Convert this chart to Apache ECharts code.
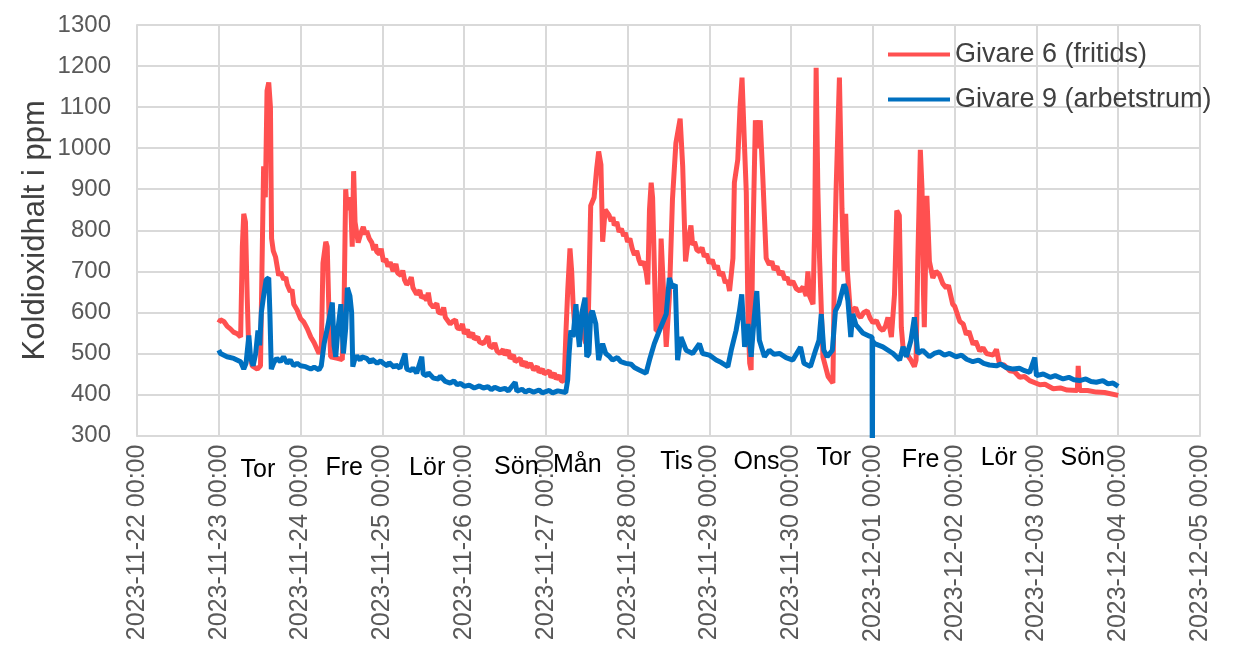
<!DOCTYPE html>
<html><head><meta charset="utf-8">
<script src="https://cdn.jsdelivr.net/npm/echarts@6/dist/echarts.min.js"></script>
<style>html,body{margin:0;padding:0;background:#fff}#c{width:1235px;height:645px}</style>
</head><body><div id="c"></div>
<script>
// ---- data ----
const yTickMin = 300, yTickMax = 1300, yTickStep = 100;
const xStart = '2023-11-22 00:00', xEnd = '2023-12-05 00:00';
const seriesNames = ['Givare 6 (fritids)', 'Givare 9 (arbetstrum)'];
const dayNames = ['Tor','Fre','Lör','Sön','Mån','Tis','Ons','Tor','Fre','Lör','Sön'];
const dayTimes = ['2023-11-23 11:30','2023-11-24 12:50','2023-11-25 13:10','2023-11-26 15:20','2023-11-27 09:15',
  '2023-11-28 14:20','2023-11-29 13:50','2023-11-30 12:30','2023-12-01 14:00','2023-12-02 12:55','2023-12-03 13:35'];

const givare6 = [
 ['2023-11-23 00:00',575],['2023-11-23 00:30',582],['2023-11-23 01:30',578],['2023-11-23 02:30',566],['2023-11-23 03:25',560],
 ['2023-11-23 04:20',552],['2023-11-23 05:25',548],['2023-11-23 06:25',540],['2023-11-23 06:55',760],['2023-11-23 07:20',840],
 ['2023-11-23 07:50',820],['2023-11-23 08:20',640],['2023-11-23 08:50',500],['2023-11-23 09:50',470],['2023-11-23 11:20',462],
 ['2023-11-23 12:15',470],['2023-11-23 12:40',700],['2023-11-23 13:10',956],['2023-11-23 13:40',880],['2023-11-23 14:10',1140],
 ['2023-11-23 14:40',1160],['2023-11-23 15:10',1100],['2023-11-23 15:30',780],['2023-11-23 16:00',750],['2023-11-23 16:40',735],
 ['2023-11-23 17:35',690],['2023-11-23 18:10',698],['2023-11-23 19:05',680],['2023-11-23 19:40',686],['2023-11-23 20:05',668],
 ['2023-11-23 21:00',650],['2023-11-23 21:30',656],['2023-11-23 22:00',620],['2023-11-23 23:00',606],['2023-11-24 00:00',585],
 ['2023-11-24 01:00',576],['2023-11-24 02:00',560],['2023-11-24 03:00',540],['2023-11-24 04:00',526],['2023-11-24 05:25',500],
 ['2023-11-24 06:05',510],['2023-11-24 06:35',720],['2023-11-24 07:25',772],['2023-11-24 07:50',760],['2023-11-24 08:20',600],
 ['2023-11-24 08:50',492],['2023-11-24 10:50',488],['2023-11-24 12:15',485],['2023-11-24 12:45',600],['2023-11-24 13:15',900],
 ['2023-11-24 13:40',850],['2023-11-24 14:40',880],['2023-11-24 15:10',760],['2023-11-24 15:35',944],['2023-11-24 16:00',820],
 ['2023-11-24 16:55',770],['2023-11-24 17:40',792],['2023-11-24 18:25',808],['2023-11-24 19:00',790],['2023-11-24 19:25',798],
 ['2023-11-24 20:10',780],['2023-11-24 20:55',770],['2023-11-24 21:30',752],['2023-11-24 22:00',766],['2023-11-24 22:20',748],
 ['2023-11-24 23:10',742],['2023-11-24 23:40',755],['2023-11-25 00:20',724],['2023-11-25 01:00',730],['2023-11-25 01:40',712],
 ['2023-11-25 02:20',722],['2023-11-25 03:10',700],['2023-11-25 04:00',718],['2023-11-25 04:30',696],['2023-11-25 05:30',690],
 ['2023-11-25 06:00',702],['2023-11-25 06:30',680],['2023-11-25 07:10',668],['2023-11-25 08:00',676],['2023-11-25 08:30',686],
 ['2023-11-25 09:00',660],['2023-11-25 10:05',644],['2023-11-25 11:00',654],['2023-11-25 11:30',636],['2023-11-25 12:10',640],
 ['2023-11-25 13:00',630],['2023-11-25 13:30',648],['2023-11-25 14:00',622],['2023-11-25 15:00',612],['2023-11-25 16:00',622],
 ['2023-11-25 16:30',600],['2023-11-25 17:30',598],['2023-11-25 18:00',612],['2023-11-25 18:30',588],['2023-11-25 19:55',572],
 ['2023-11-25 20:40',578],['2023-11-25 21:30',582],['2023-11-25 22:00',562],['2023-11-25 23:00',560],['2023-11-25 23:30',572],
 ['2023-11-26 00:05',548],['2023-11-26 01:00',558],['2023-11-26 01:30',540],['2023-11-26 02:30',550],['2023-11-26 03:00',535],
 ['2023-11-26 04:00',540],['2023-11-26 04:30',528],['2023-11-26 05:40',524],['2023-11-26 06:20',532],['2023-11-26 07:00',542],
 ['2023-11-26 07:30',518],['2023-11-26 08:30',514],['2023-11-26 09:00',526],['2023-11-26 09:40',506],['2023-11-26 10:35',500],
 ['2023-11-26 11:30',510],['2023-11-26 12:00',496],['2023-11-26 13:00',508],['2023-11-26 13:30',488],['2023-11-26 14:30',496],
 ['2023-11-26 15:00',480],['2023-11-26 15:30',476],['2023-11-26 16:30',488],['2023-11-26 17:00',470],['2023-11-26 18:00',480],
 ['2023-11-26 18:30',466],['2023-11-26 19:30',476],['2023-11-26 20:25',460],['2023-11-26 21:30',468],['2023-11-26 22:00',454],
 ['2023-11-26 23:00',462],['2023-11-26 23:30',450],['2023-11-27 00:05',446],['2023-11-27 01:00',458],['2023-11-27 01:30',442],
 ['2023-11-27 02:30',452],['2023-11-27 03:00',438],['2023-11-27 04:00',446],['2023-11-27 04:30',434],['2023-11-27 05:10',432],
 ['2023-11-27 05:25',440],['2023-11-27 05:55',556],['2023-11-27 06:25',652],['2023-11-27 07:05',756],['2023-11-27 07:35',700],
 ['2023-11-27 08:00',620],['2023-11-27 08:35',556],['2023-11-27 09:20',590],['2023-11-27 10:20',564],['2023-11-27 11:45',524],
 ['2023-11-27 12:30',600],['2023-11-27 13:10',860],['2023-11-27 14:10',880],['2023-11-27 14:55',950],['2023-11-27 15:30',992],
 ['2023-11-27 16:10',960],['2023-11-27 16:40',772],['2023-11-27 17:25',850],['2023-11-27 18:35',836],['2023-11-27 19:10',822],
 ['2023-11-27 19:40',832],['2023-11-27 20:05',812],['2023-11-27 20:50',820],['2023-11-27 21:30',796],['2023-11-27 22:10',804],
 ['2023-11-27 22:50',786],['2023-11-27 23:20',794],['2023-11-28 00:00',772],['2023-11-28 00:40',780],['2023-11-28 01:20',756],
 ['2023-11-28 02:00',740],['2023-11-28 02:40',750],['2023-11-28 03:20',728],['2023-11-28 03:55',716],['2023-11-28 04:40',724],
 ['2023-11-28 05:25',700],['2023-11-28 05:55',668],['2023-11-28 06:25',850],['2023-11-28 06:55',916],['2023-11-28 07:20',880],
 ['2023-11-28 07:50',716],['2023-11-28 08:20',556],['2023-11-28 09:20',556],['2023-11-28 09:50',780],['2023-11-28 10:20',780],
 ['2023-11-28 10:50',600],['2023-11-28 11:20',516],['2023-11-28 12:15',636],['2023-11-28 13:10',876],['2023-11-28 14:10',1012],
 ['2023-11-28 15:25',1072],['2023-11-28 16:10',956],['2023-11-28 17:00',724],['2023-11-28 17:35',764],['2023-11-28 18:35',812],
 ['2023-11-28 19:05',764],['2023-11-28 19:40',772],['2023-11-28 20:20',752],['2023-11-28 21:05',748],['2023-11-28 21:50',758],
 ['2023-11-28 22:30',736],['2023-11-28 23:10',742],['2023-11-29 00:00',720],['2023-11-29 00:50',728],['2023-11-29 01:40',706],
 ['2023-11-29 02:20',714],['2023-11-29 03:00',690],['2023-11-29 03:50',698],['2023-11-29 04:40',672],['2023-11-29 05:20',678],
 ['2023-11-29 05:55',652],['2023-11-29 06:55',732],['2023-11-29 07:20',916],['2023-11-29 08:20',972],['2023-11-29 09:00',1100],
 ['2023-11-29 09:35',1172],['2023-11-29 10:20',1000],['2023-11-29 10:50',892],['2023-11-29 11:20',588],['2023-11-29 11:50',476],
 ['2023-11-29 12:15',460],['2023-11-29 12:40',732],['2023-11-29 13:30',1068],['2023-11-29 14:10',1000],['2023-11-29 14:55',1068],
 ['2023-11-29 15:40',932],['2023-11-29 16:40',732],['2023-11-29 17:35',716],['2023-11-29 18:20',724],['2023-11-29 19:00',704],
 ['2023-11-29 19:50',712],['2023-11-29 20:35',692],['2023-11-29 21:20',700],['2023-11-29 22:10',680],['2023-11-29 22:50',686],
 ['2023-11-29 23:30',668],['2023-11-30 00:30',676],['2023-11-30 01:30',658],['2023-11-30 02:30',652],['2023-11-30 03:30',662],
 ['2023-11-30 04:25',640],['2023-11-30 04:55',700],['2023-11-30 05:25',640],['2023-11-30 06:25',620],['2023-11-30 06:55',812],
 ['2023-11-30 07:20',1196],['2023-11-30 07:50',900],['2023-11-30 08:20',732],['2023-11-30 09:20',492],['2023-11-30 10:50',444],
 ['2023-11-30 12:15',428],['2023-11-30 12:45',732],['2023-11-30 13:10',892],['2023-11-30 14:10',1172],['2023-11-30 14:55',852],
 ['2023-11-30 15:30',700],['2023-11-30 16:00',840],['2023-11-30 16:30',700],['2023-11-30 17:25',596],['2023-11-30 18:10',606],
 ['2023-11-30 18:55',612],['2023-11-30 19:40',594],['2023-11-30 20:25',588],['2023-11-30 21:20',600],['2023-11-30 22:20',604],
 ['2023-11-30 23:10',586],['2023-12-01 00:00',575],['2023-12-01 01:00',580],['2023-12-01 02:00',562],['2023-12-01 02:55',556],
 ['2023-12-01 03:40',566],['2023-12-01 04:25',588],['2023-12-01 05:25',540],['2023-12-01 06:20',644],['2023-12-01 07:00',848],
 ['2023-12-01 07:45',836],['2023-12-01 08:20',564],['2023-12-01 08:50',516],['2023-12-01 09:50',500],['2023-12-01 11:10',484],
 ['2023-12-01 12:10',468],['2023-12-01 12:40',484],['2023-12-01 13:10',724],['2023-12-01 13:55',996],['2023-12-01 14:25',900],
 ['2023-12-01 14:50',650],['2023-12-01 15:05',564],['2023-12-01 15:50',884],['2023-12-01 16:35',724],['2023-12-01 17:35',684],
 ['2023-12-01 18:30',700],['2023-12-01 19:30',692],['2023-12-01 20:30',670],['2023-12-01 21:30',660],['2023-12-01 22:10',666],
 ['2023-12-01 23:25',620],['2023-12-02 00:00',615],['2023-12-02 01:30',578],['2023-12-02 02:30',572],['2023-12-02 03:25',546],
 ['2023-12-02 04:10',554],['2023-12-02 05:25',522],['2023-12-02 06:10',530],['2023-12-02 07:20',506],['2023-12-02 08:20',514],
 ['2023-12-02 09:20',500],['2023-12-02 10:20',498],['2023-12-02 11:20',496],['2023-12-02 12:15',510],['2023-12-02 13:10',474],
 ['2023-12-02 14:30',472],['2023-12-02 16:10',458],['2023-12-02 17:30',456],['2023-12-02 19:05',442],['2023-12-02 20:30',444],
 ['2023-12-02 22:00',434],['2023-12-03 01:00',424],['2023-12-03 02:30',425],['2023-12-03 04:55',414],['2023-12-03 07:00',416],
 ['2023-12-03 09:00',411],['2023-12-03 12:00',410],['2023-12-03 12:15',470],['2023-12-03 12:40',410],['2023-12-03 15:00',410],
 ['2023-12-03 17:35',406],['2023-12-03 20:00',405],['2023-12-04 00:00',398]
];

const givare9 = [
 ['2023-11-23 00:00',508],['2023-11-23 00:30',500],['2023-11-23 02:25',492],['2023-11-23 04:25',488],['2023-11-23 06:25',480],
 ['2023-11-23 06:55',470],['2023-11-23 07:20',462],['2023-11-23 08:00',476],['2023-11-23 08:50',544],['2023-11-23 09:20',490],
 ['2023-11-23 10:05',470],['2023-11-23 10:50',500],['2023-11-23 11:30',556],['2023-11-23 12:00',520],['2023-11-23 12:30',600],
 ['2023-11-23 13:10',640],['2023-11-23 13:55',680],['2023-11-23 14:40',684],['2023-11-23 15:00',600],['2023-11-23 15:25',462],
 ['2023-11-23 16:10',478],['2023-11-23 17:00',488],['2023-11-23 18:05',480],['2023-11-23 19:00',492],['2023-11-23 20:05',476],
 ['2023-11-23 21:00',484],['2023-11-23 22:00',470],['2023-11-23 23:00',476],['2023-11-24 00:00',470],['2023-11-24 01:30',468],
 ['2023-11-24 03:00',462],['2023-11-24 04:00',467],['2023-11-24 05:25',460],['2023-11-24 06:05',470],['2023-11-24 06:55',524],
 ['2023-11-24 07:50',560],['2023-11-24 09:20',624],['2023-11-24 09:50',520],['2023-11-24 10:20',492],['2023-11-24 11:00',560],
 ['2023-11-24 11:50',620],['2023-11-24 12:35',500],['2023-11-24 13:15',560],['2023-11-24 13:45',660],['2023-11-24 14:30',640],
 ['2023-11-24 15:00',600],['2023-11-24 15:20',468],['2023-11-24 16:00',488],['2023-11-24 16:30',494],['2023-11-24 17:30',484],
 ['2023-11-24 18:00',492],['2023-11-24 19:25',488],['2023-11-24 20:30',478],['2023-11-24 21:00',486],['2023-11-24 22:30',476],
 ['2023-11-24 23:30',482],['2023-11-25 00:20',476],['2023-11-25 01:30',470],['2023-11-25 02:00',478],['2023-11-25 03:30',466],
 ['2023-11-25 04:00',472],['2023-11-25 05:10',464],['2023-11-25 06:40',500],['2023-11-25 07:10',462],['2023-11-25 08:30',458],
 ['2023-11-25 09:00',465],['2023-11-25 10:05',452],['2023-11-25 11:35',492],['2023-11-25 12:00',450],['2023-11-25 13:00',446],
 ['2023-11-25 13:30',453],['2023-11-25 15:00',440],['2023-11-25 16:30',438],['2023-11-25 17:00',445],['2023-11-25 18:30',432],
 ['2023-11-25 19:55',428],['2023-11-25 21:00',433],['2023-11-25 22:00',424],['2023-11-25 23:00',427],['2023-11-26 00:05',420],
 ['2023-11-26 01:30',423],['2023-11-26 03:00',416],['2023-11-26 04:30',421],['2023-11-26 05:40',416],['2023-11-26 07:00',419],
 ['2023-11-26 08:00',412],['2023-11-26 09:00',418],['2023-11-26 10:35',412],['2023-11-26 12:00',415],['2023-11-26 13:00',409],
 ['2023-11-26 15:00',430],['2023-11-26 15:30',408],['2023-11-26 17:00',413],['2023-11-26 18:00',406],['2023-11-26 19:00',411],
 ['2023-11-26 20:25',406],['2023-11-26 22:00',411],['2023-11-26 23:00',404],['2023-11-27 01:00',410],['2023-11-27 02:00',404],
 ['2023-11-27 03:30',409],['2023-11-27 04:00',405],['2023-11-27 05:50',405],['2023-11-27 06:25',436],['2023-11-27 06:50',500],
 ['2023-11-27 07:20',556],['2023-11-27 08:00',540],['2023-11-27 08:50',620],['2023-11-27 09:20',560],['2023-11-27 09:50',516],
 ['2023-11-27 10:35',600],['2023-11-27 11:30',636],['2023-11-27 12:00',492],['2023-11-27 12:40',500],['2023-11-27 13:10',596],
 ['2023-11-27 13:40',604],['2023-11-27 14:40',572],['2023-11-27 15:30',484],['2023-11-27 16:40',524],['2023-11-27 17:35',500],
 ['2023-11-27 18:30',494],['2023-11-27 19:35',484],['2023-11-27 21:00',490],['2023-11-27 22:00',480],['2023-11-27 23:30',476],
 ['2023-11-28 01:00',474],['2023-11-28 02:00',466],['2023-11-28 03:25',460],['2023-11-28 05:25',452],['2023-11-28 06:25',484],
 ['2023-11-28 07:50',524],['2023-11-28 09:20',556],['2023-11-28 11:20',596],['2023-11-28 12:15',684],['2023-11-28 13:10',660],
 ['2023-11-28 14:00',668],['2023-11-28 14:40',484],['2023-11-28 15:40',540],['2023-11-28 17:10',508],['2023-11-28 19:05',500],
 ['2023-11-28 21:05',524],['2023-11-28 22:00',500],['2023-11-29 00:00',496],['2023-11-29 01:00',490],['2023-11-29 02:00',484],
 ['2023-11-29 03:30',478],['2023-11-29 05:25',468],['2023-11-29 06:25',508],['2023-11-29 07:50',556],['2023-11-29 08:50',604],
 ['2023-11-29 09:30',644],['2023-11-29 10:20',516],['2023-11-29 11:20',572],['2023-11-29 12:15',492],['2023-11-29 13:10',588],
 ['2023-11-29 13:55',652],['2023-11-29 14:40',532],['2023-11-29 16:10',492],['2023-11-29 17:35',508],['2023-11-29 19:00',498],
 ['2023-11-29 20:35',500],['2023-11-29 22:30',490],['2023-11-30 00:30',484],['2023-11-30 02:45',516],['2023-11-30 03:45',476],
 ['2023-11-30 05:40',468],['2023-11-30 07:10',508],['2023-11-30 08:10',532],['2023-11-30 08:50',596],['2023-11-30 09:35',508],
 ['2023-11-30 10:35',492],['2023-11-30 12:05',508],['2023-11-30 13:00',604],['2023-11-30 14:00',620],['2023-11-30 15:30',668],
 ['2023-11-30 16:00',660],['2023-11-30 16:40',628],['2023-11-30 17:30',540],['2023-11-30 18:05',596],['2023-11-30 19:00',570],
 ['2023-11-30 21:00',550],['2023-11-30 23:00',542],['2023-11-30 23:45',540],['2023-11-30 23:50',0],['2023-11-30 23:55',530],
 ['2023-12-01 00:30',524],['2023-12-01 02:55',516],['2023-12-01 05:55',500],['2023-12-01 07:50',484],['2023-12-01 08:50',516],
 ['2023-12-01 09:50',492],['2023-12-01 11:10',532],['2023-12-01 12:10',588],['2023-12-01 13:10',500],['2023-12-01 14:35',508],
 ['2023-12-01 16:35',492],['2023-12-01 18:00',500],['2023-12-01 19:30',504],['2023-12-01 21:00',496],['2023-12-01 22:30',500],
 ['2023-12-02 00:25',492],['2023-12-02 02:00',496],['2023-12-02 03:30',486],['2023-12-02 05:20',480],['2023-12-02 07:00',484],
 ['2023-12-02 08:30',476],['2023-12-02 10:10',472],['2023-12-02 12:15',470],['2023-12-02 13:30',474],['2023-12-02 15:00',466],
 ['2023-12-02 17:10',462],['2023-12-02 19:00',464],['2023-12-02 20:30',458],['2023-12-02 22:00',454],['2023-12-02 23:30',490],
 ['2023-12-03 00:00',446],['2023-12-03 02:00',450],['2023-12-03 04:00',442],['2023-12-03 05:30',446],['2023-12-03 07:50',438],
 ['2023-12-03 09:30',442],['2023-12-03 11:00',436],['2023-12-03 12:40',434],['2023-12-03 14:30',438],['2023-12-03 16:00',432],
 ['2023-12-03 17:35',430],['2023-12-03 19:30',434],['2023-12-03 21:00',426],['2023-12-03 22:30',428],['2023-12-04 00:00',420]
];

// ---- chart ----
const FONT = '"Liberation Sans", Arial, sans-serif';
const chart = echarts.init(document.getElementById('c'), null, {renderer: 'canvas'});
const pad = n => String(n).padStart(2, '0');
chart.setOption({
  animation: false,
  backgroundColor: '#fff',
  textStyle: {fontFamily: FONT},
  grid: {left: 137, right: 35, top: 25, bottom: 207, containLabel: false},
  legend: {
    data: [{name: seriesNames[0], icon: 'rect'}, {name: seriesNames[1], icon: 'rect'}],
    orient: 'vertical', left: 888, top: 41, padding: 0,
    itemWidth: 62, itemHeight: 4, itemGap: 18,
    textStyle: {fontSize: 27, color: '#404040', fontFamily: FONT}
  },
  xAxis: {
    type: 'time', min: xStart, max: xEnd,
    minInterval: 86400000, maxInterval: 86400000,
    axisLine: {show: true, lineStyle: {color: '#D9D9D9', width: 2}},
    axisTick: {show: false},
    splitLine: {show: true, lineStyle: {color: '#D9D9D9', width: 2}},
    axisLabel: {
      rotate: 90, margin: 9, fontSize: 25, color: '#595959', fontFamily: FONT,
      showMinLabel: true, showMaxLabel: true,
      formatter: v => { const d = new Date(v); return d.getFullYear() + '-' + pad(d.getMonth()+1) + '-' + pad(d.getDate()) + ' ' + pad(d.getHours()) + ':' + pad(d.getMinutes()); }
    }
  },
  yAxis: {
    type: 'value', min: yTickMin, max: yTickMax, interval: yTickStep,
    name: 'Koldioxidhalt i ppm', nameLocation: 'middle', nameGap: 86, nameMoveOverlap: false,
    nameTextStyle: {fontSize: 31, color: '#404040', fontFamily: FONT},
    axisLine: {show: true, lineStyle: {color: '#D9D9D9', width: 2}},
    axisTick: {show: false},
    splitLine: {show: true, lineStyle: {color: '#D9D9D9', width: 2}},
    axisLabel: {margin: 26, fontSize: 24, color: '#595959', fontFamily: FONT, formatter: v => String(v)}
  },
  series: [
    {name: seriesNames[0], type: 'line', data: givare6, showSymbol: false, symbol: 'none', sampling: null,
     lineStyle: {color: '#FF5050', width: 5}, itemStyle: {color: '#FF5050'}, clip: true, z: 2},
    {name: seriesNames[1], type: 'line', data: givare9, showSymbol: false, symbol: 'none', sampling: null,
     lineStyle: {color: '#0070C0', width: 5}, itemStyle: {color: '#0070C0'}, clip: true, z: 3}
  ]
});

// day labels below the axis, x placed through the time scale
const dayY = [470, 468, 468, 467, 465, 462, 462, 458, 460, 458, 458];
const toMs = s => new Date(s.replace(' ', 'T')).getTime();
const graphics = dayNames.map((name, i) => {
  const px = chart.convertToPixel({xAxisIndex: 0}, toMs(dayTimes[i]));
  return {type: 'text', x: px, y: dayY[i], style: {text: name, fontSize: 25, fill: '#000', fontFamily: FONT, align: 'center', verticalAlign: 'middle'}, z: 10};
});
chart.setOption({graphic: graphics});
</script></body></html>
